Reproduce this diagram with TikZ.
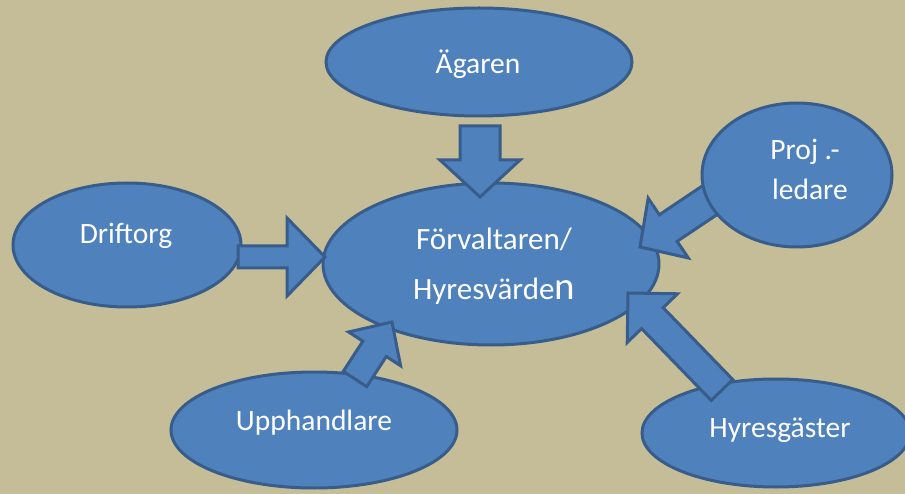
\documentclass[tikz,border=0pt]{standalone}
\usepackage{fontspec}
\setmainfont{Carlito}
\usetikzlibrary{shapes.geometric,calc}

\definecolor{bgtan}{HTML}{C4BD97}
\definecolor{bubblefill}{HTML}{4F81BD}
\definecolor{bubbleline}{HTML}{385D8A}

\tikzset{
  bubble/.style={ellipse, draw=bubbleline, fill=bubblefill, line width=3pt, inner sep=0pt},
  fat/.style={draw=bubbleline, fill=bubblefill, line width=3pt, line join=miter},
  word/.style={text=white, font=\fontsize{29.5}{32}\selectfont, anchor=base, inner sep=0pt}
}

% block arrow: tail, tip, half shaft, half head, head length
\newcommand{\blockarrow}[5]{%
  \coordinate (hb) at ($(#2)!#5pt!(#1)$);
  \draw[fat] ($(#1)!#3pt!90:(#2)$) -- ($(hb)!#3pt!-90:(#1)$) -- ($(hb)!#4pt!-90:(#1)$) -- (#2)
    -- ($(hb)!#4pt!90:(#1)$) -- ($(hb)!#3pt!90:(#1)$) -- ($(#1)!#3pt!-90:(#2)$) -- cycle;
}

\begin{document}
\begin{tikzpicture}[x=1pt,y=-1pt]
  \useasboundingbox (0,0) rectangle (905,494);
  \clip (0,0) rectangle (905,494);
  \fill[bgtan] (0,0) rectangle (905,494);

  % bubbles
  \node[bubble, minimum width=336pt, minimum height=162pt] (forv) at (491,264) {};
  \node[bubble, minimum width=306pt, minimum height=108pt] (agaren) at (479,62) {};
  \node[bubble, minimum width=228pt, minimum height=124pt] (drift) at (127,245) {};
  \node[bubble, minimum width=286pt, minimum height=116pt] (upph) at (314,430) {};
  \node[bubble, minimum width=268pt, minimum height=108pt] (hyres) at (776,433) {};

  % arrows
  \coordinate (agaT) at (480,126); \coordinate (agaH) at (480,197);
  \coordinate (driT) at (238,257); \coordinate (driH) at (325,257);
  \coordinate (proT) at (722,192); \coordinate (proH) at (640,247);
  \coordinate (uppT) at (355,379); \coordinate (uppH) at (392,322);
  \coordinate (hyrT) at (722,390); \coordinate (hyrH) at (628,293);
  \blockarrow{agaT}{agaH}{20}{40}{37}
  \blockarrow{driT}{driH}{11}{39}{38}
  \blockarrow{proT}{proH}{16}{36}{34}
  \blockarrow{uppT}{uppH}{14}{31}{32}
  \blockarrow{hyrT}{hyrH}{15}{35}{35}

  \node[bubble, minimum width=190pt, minimum height=144pt] (proj) at (797,175) {};

  % texts
  \node[word] (agarentxt) at (478,74) {Ägaren};
  \node[word, font=\fontsize{31}{33}\selectfont] (forvtxtA) at (494,250) {Förvaltaren/};
  \node[word, font=\fontsize{31}{33}\selectfont] (forvtxtB) at (494,300) {Hyresvärde{\fontsize{39}{39}\selectfont n}};
  \node[word] (drifttxt) at (126,244) {Driftorg};
  \node[word] (projtxtA) at (805,160) {Proj .-};
  \node[word] (projtxtB) at (810,200) {ledare};
  \node[word] (upphtxt) at (314,430) {Upphandlare};
  \node[word] (hyrestxt) at (780,437) {Hyresgäster};
\end{tikzpicture}
\end{document}
